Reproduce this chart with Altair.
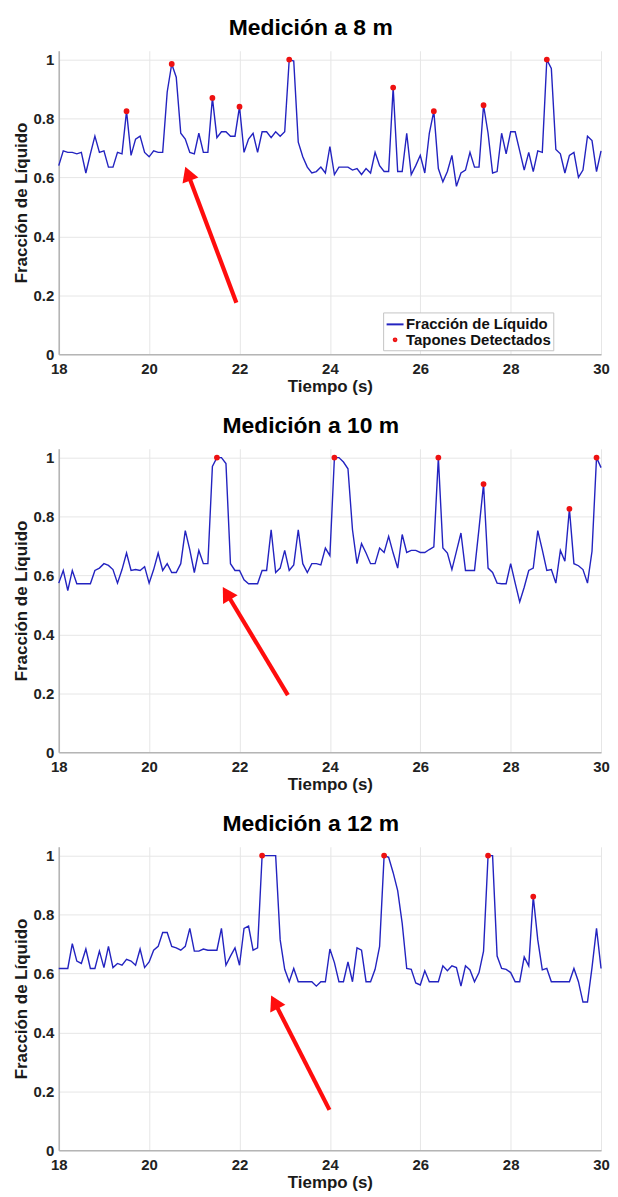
import math
import altair as alt
import pandas as pd

# ---------------- data ----------------
tiempo = [
    18.0, 18.1, 18.2, 18.3, 18.4, 18.5, 18.6, 18.7, 18.8, 18.9,
    19.0, 19.1, 19.2, 19.3, 19.4, 19.5, 19.6, 19.7, 19.8, 19.9,
    20.0, 20.1, 20.2, 20.3, 20.4, 20.5, 20.6, 20.7, 20.8, 20.9,
    21.0, 21.1, 21.2, 21.3, 21.4, 21.5, 21.6, 21.7, 21.8, 21.9,
    22.0, 22.1, 22.2, 22.3, 22.4, 22.5, 22.6, 22.7, 22.8, 22.9,
    23.0, 23.1, 23.2, 23.3, 23.4, 23.5, 23.6, 23.7, 23.8, 23.9,
    24.0, 24.1, 24.2, 24.3, 24.4, 24.5, 24.6, 24.7, 24.8, 24.9,
    25.0, 25.1, 25.2, 25.3, 25.4, 25.5, 25.6, 25.7, 25.8, 25.9,
    26.0, 26.1, 26.2, 26.3, 26.4, 26.5, 26.6, 26.7, 26.8, 26.9,
    27.0, 27.1, 27.2, 27.3, 27.4, 27.5, 27.6, 27.7, 27.8, 27.9,
    28.0, 28.1, 28.2, 28.3, 28.4, 28.5, 28.6, 28.7, 28.8, 28.9,
    29.0, 29.1, 29.2, 29.3, 29.4, 29.5, 29.6, 29.7, 29.8, 29.9,
    30.0,
]

frac_8m = [
    0.64, 0.69, 0.685, 0.685, 0.68, 0.685, 0.615, 0.68, 0.74, 0.685,
    0.69, 0.635, 0.635, 0.685, 0.68, 0.825, 0.675, 0.73, 0.74, 0.685,
    0.67, 0.69, 0.685, 0.685, 0.89, 0.985, 0.94, 0.75, 0.73, 0.685,
    0.68, 0.75, 0.685, 0.685, 0.87, 0.735, 0.755, 0.755, 0.74, 0.74,
    0.84, 0.685, 0.73, 0.75, 0.685, 0.755, 0.755, 0.735, 0.755, 0.74,
    0.755, 1.0, 0.995, 0.72, 0.67, 0.635, 0.615, 0.62, 0.635, 0.615,
    0.705, 0.61, 0.635, 0.635, 0.635, 0.625, 0.63, 0.61, 0.63, 0.615,
    0.685, 0.64, 0.62, 0.62, 0.905, 0.62, 0.62, 0.75, 0.61, 0.64,
    0.675, 0.615, 0.75, 0.825, 0.63, 0.585, 0.62, 0.675, 0.57, 0.615,
    0.625, 0.685, 0.635, 0.635, 0.845, 0.75, 0.615, 0.62, 0.75, 0.68,
    0.755, 0.755, 0.69, 0.625, 0.685, 0.62, 0.69, 0.685, 1.0, 0.97,
    0.695, 0.68, 0.615, 0.675, 0.685, 0.6, 0.625, 0.74, 0.725, 0.62,
    0.69,
]

frac_10m = [
    0.574, 0.617, 0.549, 0.617, 0.572, 0.572, 0.572, 0.572, 0.617, 0.625,
    0.64, 0.634, 0.62, 0.574, 0.62, 0.676, 0.617, 0.62, 0.617, 0.63,
    0.574, 0.62, 0.676, 0.617, 0.64, 0.61, 0.61, 0.64, 0.752, 0.687,
    0.61, 0.685, 0.64, 0.64, 0.97, 1.0, 1.0, 0.98, 0.64, 0.617,
    0.617, 0.585, 0.572, 0.572, 0.572, 0.617, 0.617, 0.755, 0.61, 0.625,
    0.685, 0.617, 0.636, 0.755, 0.64, 0.61, 0.64, 0.64, 0.636, 0.693,
    0.667, 1.0, 1.0, 0.985, 0.962, 0.755, 0.64, 0.708, 0.676, 0.64,
    0.64, 0.693, 0.678, 0.733, 0.676, 0.625, 0.739, 0.678, 0.685, 0.685,
    0.678, 0.678, 0.688, 0.697, 1.0, 0.693, 0.676, 0.62, 0.682, 0.744,
    0.617, 0.617, 0.617, 0.76, 0.91, 0.625, 0.61, 0.574, 0.572, 0.572,
    0.64, 0.574, 0.51, 0.56, 0.617, 0.625, 0.752, 0.687, 0.617, 0.62,
    0.574, 0.685, 0.648, 0.826, 0.64, 0.633, 0.62, 0.574, 0.682, 1.0,
    0.966,
]

frac_12m = [
    0.617, 0.617, 0.617, 0.701, 0.642, 0.634, 0.683, 0.617, 0.617, 0.676,
    0.62, 0.692, 0.62, 0.634, 0.628, 0.648, 0.642, 0.628, 0.683, 0.62,
    0.639, 0.679, 0.692, 0.739, 0.739, 0.692, 0.687, 0.679, 0.692, 0.753,
    0.676, 0.676, 0.683, 0.679, 0.679, 0.679, 0.753, 0.628, 0.659, 0.687,
    0.628, 0.753, 0.761, 0.679, 0.687, 1.0, 1.0, 1.0, 1.0, 0.714,
    0.614, 0.572, 0.617, 0.572, 0.572, 0.572, 0.572, 0.557, 0.572, 0.572,
    0.683, 0.637, 0.572, 0.572, 0.639, 0.572, 0.687, 0.679, 0.572, 0.572,
    0.614, 0.692, 1.0, 0.994, 0.942, 0.881, 0.77, 0.617, 0.614, 0.568,
    0.561, 0.609, 0.572, 0.572, 0.572, 0.626, 0.609, 0.626, 0.62, 0.557,
    0.626, 0.612, 0.572, 0.603, 0.676, 1.0, 1.0, 0.659, 0.617, 0.614,
    0.603, 0.572, 0.572, 0.656, 0.626, 0.861, 0.714, 0.612, 0.617, 0.572,
    0.572, 0.572, 0.572, 0.572, 0.617, 0.572, 0.503, 0.503, 0.62, 0.753,
    0.617,
]

# detected slugs (red dots)
tap_8m_t = [19.5, 20.5, 21.4, 22.0, 23.1, 25.4, 26.3, 27.4, 28.8]
tap_8m_v = [0.825, 0.985, 0.87, 0.84, 1.0, 0.905, 0.825, 0.845, 1.0]
tap_10m_t = [21.5, 24.1, 26.4, 27.4, 29.3, 29.9]
tap_10m_v = [1.0, 1.0, 1.0, 0.91, 0.826, 1.0]
tap_12m_t = [22.5, 25.2, 27.5, 28.5]
tap_12m_v = [1.0, 1.0, 1.0, 0.861]

# red annotation arrows: tail (t, v) -> tip (t, v), in data units
arrow_8m = (21.93, 0.175, 20.80, 0.636)
arrow_10m = (23.07, 0.194, 21.63, 0.561)
arrow_12m = (23.99, 0.137, 22.70, 0.525)

titulos = ["Medición a 8 m", "Medición a 10 m", "Medición a 12 m"]
series = ["Fracción de Líquido", "Tapones Detectados"]
x_ticks = [18, 20, 22, 24, 26, 28, 30]
y_ticks = [0, 0.2, 0.4, 0.6, 0.8, 1]

# ---------------- styling ----------------
FONT = "Liberation Sans"
BLUE = "#2323c0"
RED = "#ee1111"
ARROW = "#ff0d0d"
W, H = 545, 305
YMAX = 1.03
KX = W / 12.0
KY = H / YMAX
HEAD_SIZE = 290


def panel(title, frac, tap_t, tap_v, arrow):
    df = pd.DataFrame({"t": tiempo, "v": frac})
    dots = pd.DataFrame({"t": tap_t, "v": tap_v, "serie": series[1]})

    tx, ty, hx, hy = arrow
    dxp = (hx - tx) * KX
    dyp = -(hy - ty) * KY
    ln = math.hypot(dxp, dyp)
    ux, uy = dxp / ln, dyp / ln
    back = 0.433 * math.sqrt(HEAD_SIZE)
    cx = hx - back * ux / KX
    cy = hy + back * uy / KY
    ang = math.degrees(math.atan2(ux, -uy)) % 360
    shaft = pd.DataFrame({"t": [tx], "v": [ty], "t2": [cx], "v2": [cy]})
    head = pd.DataFrame({"t": [cx], "v": [cy], "ang": [ang]})

    x = alt.X(
        "t:Q",
        scale=alt.Scale(domain=[18, 30], nice=False, zero=False),
        axis=alt.Axis(values=x_ticks, title="Tiempo (s)", format="d", labelFlush=False),
    )
    y = alt.Y(
        "v:Q",
        scale=alt.Scale(domain=[0, YMAX], nice=False),
        axis=alt.Axis(values=y_ticks, title="Fracción de Líquido", format="~g", labelFlush=False),
    )

    line = alt.Chart(df).mark_line(color=BLUE, strokeWidth=1.4).encode(x=x, y=y)

    leg = alt.Legend(
        title=None,
        orient="none",
        legendX=326,
        legendY=263,
        labelFont=FONT,
        labelFontSize=15,
        labelFontWeight="bold",
        labelColor="#111111",
        fillColor="white",
        strokeColor="#c4c4c4",
        padding=2,
        rowPadding=0,
        labelOffset=1,
        symbolStrokeWidth=2,
    )
    pts = alt.Chart(dots).mark_point(filled=False, strokeWidth=3, opacity=1).encode(
        x=x,
        y=y,
        color=alt.Color("serie:N", scale=alt.Scale(domain=series, range=[BLUE, RED]), legend=leg),
        shape=alt.Shape("serie:N", scale=alt.Scale(domain=series, range=["stroke", "circle"]), legend=leg),
        size=alt.Size("serie:N", scale=alt.Scale(domain=series, range=[290, 8]), legend=leg),
    )

    arr = alt.Chart(shaft).mark_rule(color=ARROW, strokeWidth=4.2).encode(
        x=x, y=y, x2="t2:Q", y2="v2:Q"
    )
    tip = alt.Chart(head).mark_point(
        shape="triangle-up", filled=True, color=ARROW, size=HEAD_SIZE, opacity=1
    ).encode(x=x, y=y, angle=alt.Angle("ang:Q", scale=None))

    return alt.layer(line, pts, arr, tip).properties(
        width=W,
        height=H,
        title=alt.TitleParams(
            title,
            fontSize=23,
            fontWeight="bold",
            font=FONT,
            color="#000000",
            anchor="middle",
            frame="bounds",
            baseline="bottom",
            offset=-12,
        ),
    )


chart = (
    alt.vconcat(
        panel(titulos[0], frac_8m, tap_8m_t, tap_8m_v, arrow_8m),
        panel(titulos[1], frac_10m, tap_10m_t, tap_10m_v, arrow_10m),
        panel(titulos[2], frac_12m, tap_12m_t, tap_12m_v, arrow_12m),
        spacing=21,
    )
    .properties(padding={"left": 4, "top": 6, "right": 0, "bottom": 0})
    .configure_view(stroke=None)
    .configure_axis(
        labelFont=FONT,
        labelFontSize=15,
        labelFontWeight="bold",
        labelColor="#222222",
        titleFont=FONT,
        titleFontSize=17,
        titleFontWeight="bold",
        titleColor="#1a1a1a",
        gridColor="#e6e6e6",
        gridWidth=1,
        domainColor="#b5b5b5",
        domainWidth=1.6,
        ticks=False,
    )
    .configure_axisX(labelPadding=7, titlePadding=2)
    .configure_axisY(labelPadding=5, titlePadding=3)
)

chart.save("out.html", embed_options={"renderer": "svg", "actions": False})
